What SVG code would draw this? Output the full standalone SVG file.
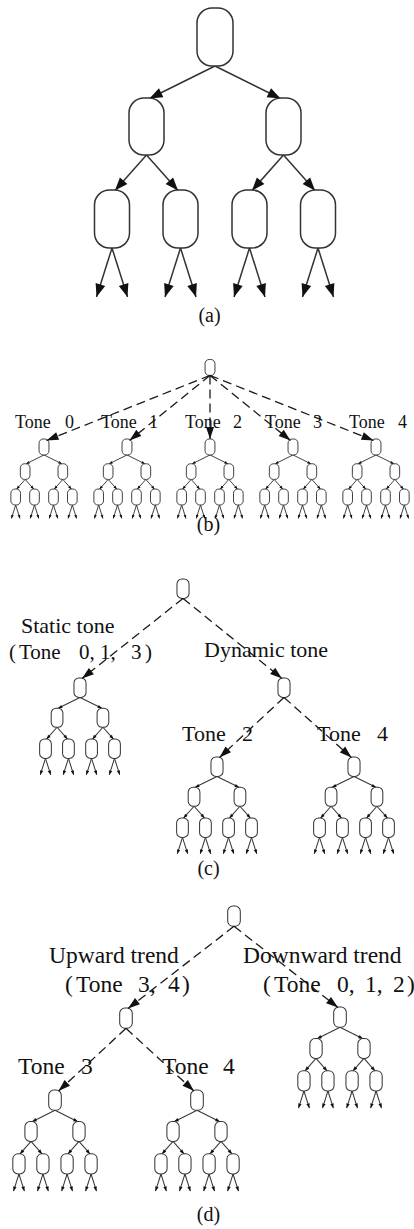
<svg xmlns="http://www.w3.org/2000/svg" xmlns:xlink="http://www.w3.org/1999/xlink" width="414" height="1229" viewBox="0 0 414 1229">
  <style>
    text { font-family: "Liberation Serif", "Times New Roman", serif; fill: #111; }
    .lb18 { font-size: 18px; }
    .lb21 { font-size: 21px; }
    .lb22 { font-size: 22px; }
    .lb23 { font-size: 23.5px; }
    .cap { font-size: 20px; text-anchor: middle; }
    .dash { fill: none; stroke: #1a1a1a; stroke-width: 1.3; stroke-dasharray: 9 5; marker-end: url(#dtip); }
  </style>
  <defs>
    <!-- solid arrowhead used inside the binary tree (scales with the tree) -->
    <marker id="tip" markerUnits="userSpaceOnUse" markerWidth="13" markerHeight="10" refX="13" refY="5" orient="auto" overflow="visible">
      <path d="M0,0 L13,5 L0,10 Z" fill="#111"/>
    </marker>
    <!-- arrowhead for the dashed branch connectors -->
    <marker id="dtip" markerUnits="userSpaceOnUse" markerWidth="12" markerHeight="8" refX="12" refY="4" orient="auto" overflow="visible">
      <path d="M0,0 L12,4 L0,8 Z" fill="#111"/>
    </marker>
    <!-- single rounded node, origin at top centre -->
    <rect id="pill" x="-18" y="0" width="36" height="58" rx="15" fill="#fff"/>
    <!-- three-level binary tree, origin at top centre of its root -->
    <g id="tree" fill="none">
      <g class="edges">
        <line x1="0" y1="58" x2="-65.5" y2="90.5" marker-end="url(#tip)"/>
        <line x1="0" y1="58" x2="65.5" y2="90.5" marker-end="url(#tip)"/>
        <line x1="-68.5" y1="147" x2="-100" y2="182.5" marker-end="url(#tip)"/>
        <line x1="-68.5" y1="147" x2="-37" y2="182.5" marker-end="url(#tip)"/>
        <line x1="68.5" y1="147" x2="37" y2="182.5" marker-end="url(#tip)"/>
        <line x1="68.5" y1="147" x2="100" y2="182.5" marker-end="url(#tip)"/>
        <line x1="-103" y1="240" x2="-118.5" y2="289" marker-end="url(#tip)"/>
        <line x1="-103" y1="240" x2="-87.5" y2="289" marker-end="url(#tip)"/>
        <line x1="-34.5" y1="240" x2="-50" y2="289" marker-end="url(#tip)"/>
        <line x1="-34.5" y1="240" x2="-19" y2="289" marker-end="url(#tip)"/>
        <line x1="34.5" y1="240" x2="19" y2="289" marker-end="url(#tip)"/>
        <line x1="34.5" y1="240" x2="50" y2="289" marker-end="url(#tip)"/>
        <line x1="103" y1="240" x2="87.5" y2="289" marker-end="url(#tip)"/>
        <line x1="103" y1="240" x2="118.5" y2="289" marker-end="url(#tip)"/>
      </g>
      <g class="nodes" fill="#fff">
        <rect x="-18" y="0" width="36" height="58" rx="15"/>
        <rect x="-86" y="90" width="35" height="57" rx="15"/>
        <rect x="51" y="90" width="35" height="57" rx="15"/>
        <rect x="-120.5" y="182" width="35" height="58" rx="15"/>
        <rect x="-52" y="182" width="35" height="58" rx="15"/>
        <rect x="17" y="182" width="35" height="58" rx="15"/>
        <rect x="85.5" y="182" width="35" height="58" rx="15"/>
      </g>
    </g>
  </defs>

  <!-- (a) full binary tree -->
  <g id="tree-a">
    <use href="#tree" transform="translate(215,8)" stroke="#333" stroke-width="1.5"/>
  </g>
  <text class="cap" x="209.5" y="322">(a)</text>

  <!-- (b) one tree per tone -->
  <g id="root-b"><use href="#pill" transform="translate(210,359.5) scale(0.275)" stroke="#333" stroke-width="3.4"/></g>
  <g id="tone0-b"><use href="#tree" transform="translate(44,439) scale(0.275)" stroke="#333" stroke-width="3.4"/></g>
  <g id="tone1-b"><use href="#tree" transform="translate(127,439) scale(0.275)" stroke="#333" stroke-width="3.4"/></g>
  <g id="tone2-b"><use href="#tree" transform="translate(210,439) scale(0.275)" stroke="#333" stroke-width="3.4"/></g>
  <g id="tone3-b"><use href="#tree" transform="translate(293,439) scale(0.275)" stroke="#333" stroke-width="3.4"/></g>
  <g id="tone4-b"><use href="#tree" transform="translate(376,439) scale(0.275)" stroke="#333" stroke-width="3.4"/></g>
  <g class="lb18">
    <text y="428"><tspan x="15">Tone </tspan><tspan x="65">0</tspan></text>
    <text y="428"><tspan x="101">Tone </tspan><tspan x="149">1</tspan></text>
    <text y="428"><tspan x="185">Tone </tspan><tspan x="233">2</tspan></text>
    <text y="428"><tspan x="265">Tone </tspan><tspan x="313">3</tspan></text>
    <text y="428"><tspan x="349">Tone </tspan><tspan x="398">4</tspan></text>
  </g>
  <text class="cap" x="208.5" y="531">(b)</text>

  <!-- (c) static / dynamic split -->
  <g id="root-c"><use href="#pill" transform="translate(183,579) scale(0.335)" stroke="#333" stroke-width="3"/></g>
  <g id="static-c"><use href="#tree" transform="translate(80,678) scale(0.335)" stroke="#333" stroke-width="3"/></g>
  <g id="dynamic-c"><use href="#pill" transform="translate(284,678) scale(0.335)" stroke="#333" stroke-width="3"/></g>
  <g id="tone2-c"><use href="#tree" transform="translate(217,757) scale(0.335)" stroke="#333" stroke-width="3"/></g>
  <g id="tone4-c"><use href="#tree" transform="translate(354,757) scale(0.335)" stroke="#333" stroke-width="3"/></g>
  <g class="lb22">
    <text x="21" y="633">Static tone</text>
    <text class="lb21" y="659"><tspan x="9">(</tspan><tspan x="19">Tone </tspan><tspan x="79">0, </tspan><tspan x="100">1, </tspan><tspan x="131">3</tspan><tspan x="145">)</tspan></text>
    <text x="204" y="657">Dynamic tone</text>
    <text y="741"><tspan x="182">Tone </tspan><tspan x="242">2</tspan></text>
    <text y="741"><tspan x="317">Tone </tspan><tspan x="377">4</tspan></text>
  </g>
  <text class="cap" x="208.5" y="875">(c)</text>

  <!-- (d) upward / downward trend split -->
  <g id="root-d"><use href="#pill" transform="translate(234,906) scale(0.35)" stroke="#333" stroke-width="2.9"/></g>
  <g id="upward-d"><use href="#pill" transform="translate(126,1008) scale(0.35)" stroke="#333" stroke-width="2.9"/></g>
  <g id="downward-d"><use href="#tree" transform="translate(340,1007) scale(0.35)" stroke="#333" stroke-width="2.9"/></g>
  <g id="tone3-d"><use href="#tree" transform="translate(55,1090) scale(0.35)" stroke="#333" stroke-width="2.9"/></g>
  <g id="tone4-d"><use href="#tree" transform="translate(197,1090) scale(0.35)" stroke="#333" stroke-width="2.9"/></g>
  <g class="lb23">
    <text x="49" y="963">Upward trend</text>
    <text y="992"><tspan x="65">(</tspan><tspan x="76">Tone </tspan><tspan x="138">3, </tspan><tspan x="168">4</tspan><tspan x="182">)</tspan></text>
    <text x="243" y="963">Downward trend</text>
    <text y="992"><tspan x="263">(</tspan><tspan x="274">Tone </tspan><tspan x="337">0, </tspan><tspan x="365">1, </tspan><tspan x="393">2</tspan><tspan x="407">)</tspan></text>
    <text y="1074"><tspan x="18">Tone </tspan><tspan x="81">3</tspan></text>
    <text y="1074"><tspan x="162">Tone </tspan><tspan x="223">4</tspan></text>
  </g>
  <text class="cap" x="208.5" y="1221">(d)</text>

  <!-- dashed branch connectors -->
  <g id="connectors">
    <line class="dash" x1="210" y1="375.4" x2="46.5" y2="440.5"/>
    <line class="dash" x1="210" y1="375.4" x2="129.5" y2="440.5"/>
    <line class="dash" x1="210" y1="375.4" x2="210" y2="439"/>
    <line class="dash" x1="210" y1="375.4" x2="290.5" y2="440.5"/>
    <line class="dash" x1="210" y1="375.4" x2="373.5" y2="440.5"/>

    <line class="dash" x1="183" y1="598.4" x2="82" y2="678.5"/>
    <line class="dash" x1="183" y1="598.4" x2="282" y2="678.5"/>
    <line class="dash" x1="284" y1="697.4" x2="219.5" y2="757.5"/>
    <line class="dash" x1="284" y1="697.4" x2="351.5" y2="757.5"/>

    <line class="dash" x1="234" y1="926.3" x2="128" y2="1008.5"/>
    <line class="dash" x1="234" y1="926.3" x2="338" y2="1007.5"/>
    <line class="dash" x1="126" y1="1028.3" x2="58.5" y2="1091"/>
    <line class="dash" x1="126" y1="1028.3" x2="194" y2="1091"/>
  </g>
</svg>
